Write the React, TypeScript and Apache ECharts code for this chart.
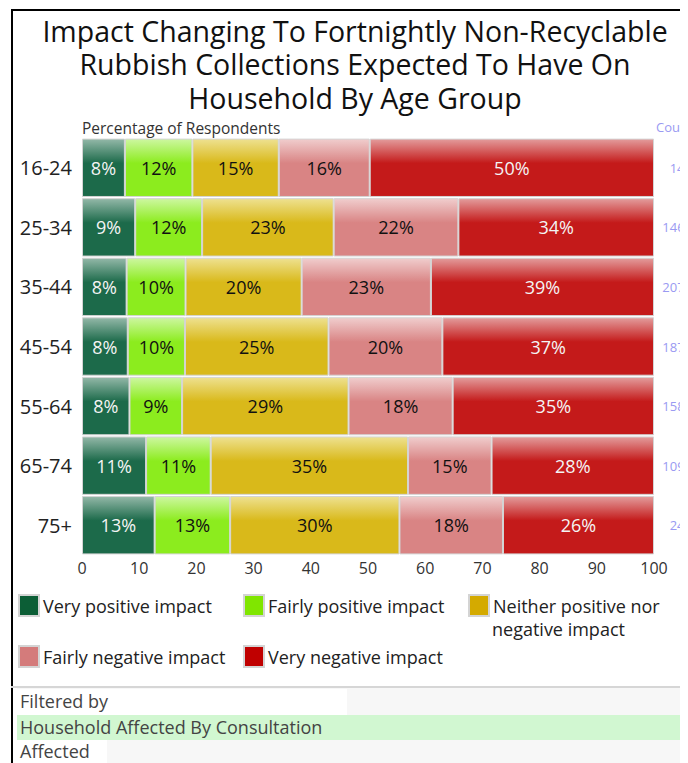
import React, { useEffect, useRef } from "react";
import * as echarts from "echarts";

const ageGroups = ["16-24", "25-34", "35-44", "45-54", "55-64", "65-74", "75+"];
const counts = ["145", "1465", "2076", "1876", "1580", "1094", "243"];
const veryPositive = [7.5, 9.3, 7.8, 8.0, 8.3, 11.2, 12.7];
const fairlyPositive = [11.8, 11.7, 10.3, 10.0, 9.2, 11.3, 13.2];
const neither = [15.1, 23.0, 20.3, 25.1, 29.1, 34.5, 29.6];
const fairlyNegative = [15.9, 21.8, 22.6, 19.9, 18.2, 14.6, 18.1];
const veryNegative = [49.7, 34.2, 39.0, 37.0, 35.2, 28.4, 26.4];
const seriesNames = [
  "Very positive impact",
  "Fairly positive impact",
  "Neither positive nor negative impact",
  "Fairly negative impact",
  "Very negative impact",
];
const xTicks = [0, 10, 20, 30, 40, 50, 60, 70, 80, 90, 100];

const FONT = "'Open Sans', 'Noto Sans', sans-serif";

const styles = [
  { light: "#93b8a8", base: "#1c6a4a", legend: "#0c5e36", text: "#f4f4f4" },
  { light: "#cdf7a0", base: "#8cec1e", legend: "#80e600", text: "#111" },
  { light: "#eee190", base: "#d9b91a", legend: "#d4aa00", text: "#111" },
  { light: "#f0cdcd", base: "#d98484", legend: "#d47b7b", text: "#111" },
  { light: "#e39c9c", base: "#c41a1a", legend: "#c00000", text: "#f4f4f4" },
];

export default function App() {
  const ref = useRef<HTMLDivElement>(null);
  useEffect(() => {
    document.documentElement.style.overflow = "hidden";
    document.body.style.overflow = "hidden";
    if (!ref.current) return;
    const chart = echarts.init(ref.current, null, { renderer: "svg" });
    const values = [veryPositive, fairlyPositive, neither, fairlyNegative, veryNegative];
    const series = values.map((data, i) => ({
      name: seriesNames[i],
      type: "bar",
      stack: "total",
      barCategoryGap: "2%",
      data,
      itemStyle: {
        color: new echarts.graphic.LinearGradient(0, 0, 0, 1, [
          { offset: 0, color: styles[i].light },
          { offset: 0.42, color: styles[i].base },
          { offset: 1, color: styles[i].base },
        ]),
        borderColor: "#d4d4d4",
        borderWidth: 1,
      },
      label: {
        show: true,
        position: "inside",
        formatter: (p: any) => Math.round(p.value) + "%",
        color: styles[i].text,
        fontSize: 18,
        fontFamily: FONT,
      },
      emphasis: { disabled: true },
    }));
    const legendPos = [
      [10, 586],
      [235, 586],
      [460, 586],
      [10, 637],
      [235, 637],
    ];
    const legends = seriesNames.map((n, i) => ({
      data: [{ name: n, itemStyle: { color: styles[i].legend } }],
      left: legendPos[i][0],
      top: legendPos[i][1],
      padding: 0,
      icon: "rect",
      itemWidth: 20,
      itemHeight: 21,
      selectedMode: false,
      formatter: (name: string) => (i === 2 ? "Neither positive nor" : name),
      textStyle: { fontSize: 18, color: "#222", fontFamily: FONT, padding: [0, 0, 0, -1] },
    }));
    chart.setOption({
      animation: false,
      textStyle: { fontFamily: FONT },
      grid: { left: 74, right: 34, top: 130, height: 417, outerBoundsMode: "none" },
      legend: legends,
      xAxis: {
        type: "value",
        min: 0,
        max: 100,
        interval: 10,
        axisLine: { show: false },
        axisTick: { show: false },
        splitLine: { show: false },
        axisLabel: {
          fontSize: 16,
          color: "#333",
          margin: 5,
          fontFamily: FONT,
          formatter: (v: number) => (xTicks.includes(v) ? String(v) : ""),
        },
      },
      yAxis: [
        {
          type: "category",
          data: ageGroups,
          inverse: true,
          axisLine: { show: false },
          axisTick: { show: false },
          axisLabel: { fontSize: 20, color: "#222", margin: 10, fontFamily: FONT },
        },
        {
          type: "category",
          data: counts,
          inverse: true,
          position: "right",
          axisLine: { show: false },
          axisTick: { show: false },
          axisLabel: {
            fontSize: 13,
            color: "#9a9af2",
            margin: 38,
            align: "right",
            fontFamily: FONT,
          },
        },
      ],
      series,
      graphic: [
        { type: "rect", shape: { x: 3, y: 1, width: 2, height: 760 }, style: { fill: "#000" }, silent: true },
        { type: "rect", shape: { x: 3, y: 1, width: 680, height: 2 }, style: { fill: "#000" }, silent: true },
        {
          type: "text",
          x: 347,
          y: 6,
          style: {
            text:
              "Impact Changing To Fortnightly Non-Recyclable\nRubbish Collections Expected To Have On\nHousehold By Age Group",
            textAlign: "center",
            textVerticalAlign: "top",
            fontSize: 28.5,
            lineHeight: 33.5,
            fontFamily: FONT,
            fill: "#111",
          },
        },
        {
          type: "text",
          x: 74,
          y: 120,
          style: {
            text: "Percentage of Respondents",
            textVerticalAlign: "middle",
            fontSize: 15.5,
            fontFamily: FONT,
            fill: "#333",
          },
        },
        {
          type: "text",
          x: 648,
          y: 119,
          style: { text: "Count", textVerticalAlign: "middle", fontSize: 13, fontFamily: FONT, fill: "#9a9af2" },
        },
        {
          type: "text",
          x: 484,
          y: 621,
          style: { text: "negative impact", textVerticalAlign: "middle", fontSize: 18, fontFamily: FONT, fill: "#222" },
        },
        { type: "rect", shape: { x: 9, y: 680, width: 680, height: 80 }, style: { fill: "#f7f7f7" }, silent: true },
        { type: "rect", shape: { x: 9, y: 681, width: 330, height: 26 }, style: { fill: "#ffffff" }, silent: true },
        { type: "rect", shape: { x: 3, y: 678, width: 680, height: 2 }, style: { fill: "#d6d6d6" }, silent: true },
        { type: "rect", shape: { x: 9, y: 707, width: 680, height: 25 }, style: { fill: "#d1f7d1" }, silent: true },
        { type: "rect", shape: { x: 9, y: 732, width: 90, height: 30 }, style: { fill: "#ffffff" }, silent: true },
        {
          type: "text",
          x: 12,
          y: 693,
          style: { text: "Filtered by", textVerticalAlign: "middle", fontSize: 18, fontFamily: FONT, fill: "#444" },
        },
        {
          type: "text",
          x: 12,
          y: 719,
          style: {
            text: "Household Affected By Consultation",
            textVerticalAlign: "middle",
            fontSize: 18,
            fontFamily: FONT,
            fill: "#444",
          },
        },
        {
          type: "text",
          x: 12,
          y: 743,
          style: { text: "Affected", textVerticalAlign: "middle", fontSize: 18, fontFamily: FONT, fill: "#444" },
        },
      ],
    });
    return () => chart.dispose();
  }, []);
  return (
    <div style={{ width: 680, height: 755, overflow: "hidden" }}>
      <div ref={ref} style={{ width: 680, height: 755 }} />
    </div>
  );
}
